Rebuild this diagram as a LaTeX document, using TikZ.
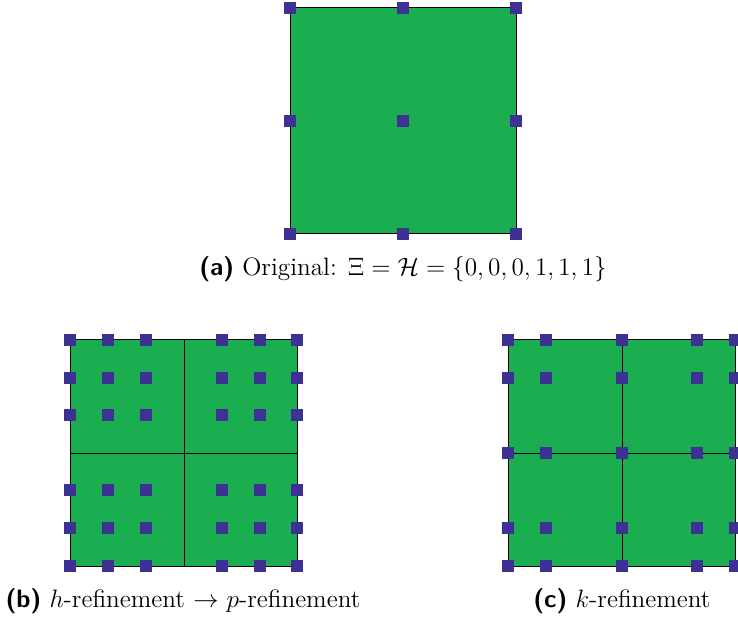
\RequirePackage{fix-cm}
\documentclass[tikz,border=0pt]{standalone}
\definecolor{sqgreen}{RGB}{27,174,80}
\definecolor{cpblue}{RGB}{61,49,148}
\begin{document}
\begin{tikzpicture}[x=0.5pt,y=-0.5pt,
  cp/.style={rectangle, fill=cpblue, draw=none, minimum size=6pt, inner sep=0pt},
  patch/.style={fill=sqgreen, draw=black, line width=0.5pt},
  knot/.style={draw=black, line width=0.5pt},
  captext/.style={anchor=base, inner sep=0pt, font=\fontsize{12.6}{15}\selectfont}]
\useasboundingbox (0,0) rectangle (738,625);
% (a)
\draw[patch] (290,8) rectangle (516,234);
\foreach \x in {290,403,516} \foreach \y in {8,121,234} \node[cp] (a-\x-\y) at (\x,\y) {};
\node[captext] (capa) at (403,276) {\textsf{\textbf{(a)}} Original: $\Xi=\mathcal{H}=\{0,0,0,1,1,1\}$};
% (b)
\draw[patch] (70,340) rectangle (297,566);
\draw[knot] (184,340) -- (184,566);
\draw[knot] (70,453) -- (297,453);
\foreach \x in {70,108,146,222,260,297} \foreach \y in {340,378,415,490,528,566} \node[cp] (b-\x-\y) at (\x,\y) {};
\node[captext] (capb) at (183,607) {\textsf{\textbf{(b)}} $h$-refinement $\rightarrow$ $p$-refinement};
% (c)
\draw[patch] (508,340) rectangle (735,566);
\draw[knot] (622,340) -- (622,566);
\draw[knot] (508,453) -- (735,453);
\foreach \x in {508,546,622,697,735} \foreach \y in {340,378,453,528,566} \node[cp] (c-\x-\y) at (\x,\y) {};
\node[captext] (capc) at (622,607) {\textsf{\textbf{(c)}} $k$-refinement};
\end{tikzpicture}
\end{document}
